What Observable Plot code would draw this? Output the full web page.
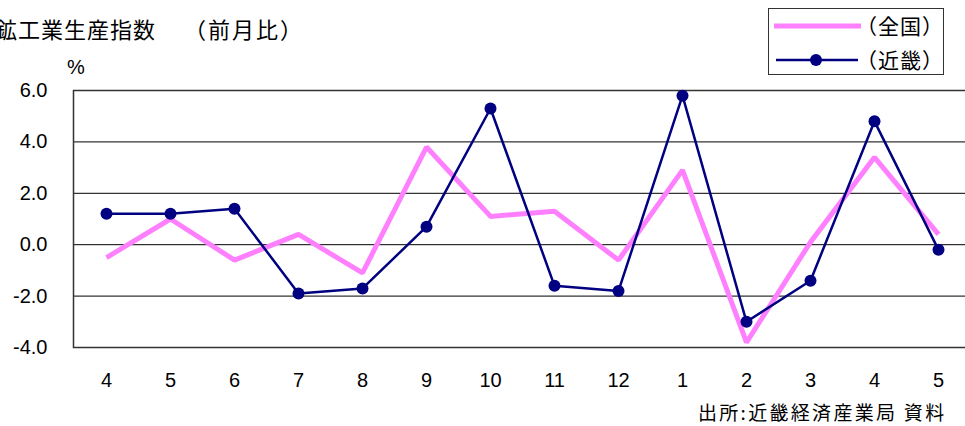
<!DOCTYPE html>
<html><head><meta charset="utf-8">
<script src="https://cdn.jsdelivr.net/npm/d3@7"></script>
<script src="https://cdn.jsdelivr.net/npm/@observablehq/plot@0.6"></script>
<style>
html,body{margin:0;padding:0;overflow:hidden;background:#fff;width:965px;height:426px}
#wrap{position:relative;width:965px;height:426px;overflow:hidden}
#chart{position:absolute;left:0;top:0;width:970px;height:426px}
#chart svg{max-width:none !important;width:970px;height:426px}
.t{position:absolute;font-family:"Noto Sans CJK JP";white-space:nowrap;color:#000;line-height:1}
#legend{position:absolute;left:768px;top:8px;width:176px;height:67px;border:1px solid #333;box-sizing:border-box;background:#fff}
</style></head><body>
<div id="wrap">
  <div id="chart"></div>
  <div class="t" style="left:-5px;top:17px;font-size:22px;letter-spacing:1px">鉱工業生産指数</div>
  <div class="t" style="left:184px;top:17px;font-size:22px;letter-spacing:2px">（前月比）</div>
  <div class="t" style="left:67px;top:57px;font-size:20px;font-family:'Liberation Sans',Arial">%</div>
  <div id="legend">
    <svg width="176" height="67" style="position:absolute;left:0;top:0">
      <line x1="5" x2="92" y1="17" y2="17" stroke="#FF80FF" stroke-width="5"/>
      <line x1="7" x2="89" y1="51" y2="51" stroke="#000080" stroke-width="2.5"/>
      <circle cx="47" cy="51" r="6" fill="#000080"/>
    </svg>
    <div class="t" style="left:87px;top:6px;font-size:21px;letter-spacing:1px">（全国）</div>
    <div class="t" style="left:87px;top:40px;font-size:21px;letter-spacing:1px">（近畿）</div>
  </div>
  <div class="t" style="left:698px;top:402px;font-size:19px;letter-spacing:2.3px">出所:近畿経済産業局 資料</div>
</div>
<script>
const months = ["4","5","6","7","8","9","10","11","12","1","2","3","4","5"];
const national = [-0.5, 1.0, -0.6, 0.4, -1.1, 3.8, 1.1, 1.3, -0.6, 2.9, -3.8, 0.1, 3.4, 0.4];
const kinki = [1.2, 1.2, 1.4, -1.9, -1.7, 0.7, 5.3, -1.6, -1.8, 5.8, -3.0, -1.4, 4.8, -0.2];
const yTicks = [6, 4, 2, 0, -2, -4];

const natRows = national.map((v, i) => ({i, v}));
const kinRows = kinki.map((v, i) => ({i, v}));

const chart = Plot.plot({
  width: 970,
  height: 426,
  marginLeft: 73,
  marginRight: 0,
  marginTop: 90,
  marginBottom: 79,
  x: {type: "point", domain: d3.range(months.length), padding: 0.5},
  y: {domain: [-4, 6]},
  style: {fontFamily: "'Liberation Sans', Arial, sans-serif", fontSize: "20px", color: "#000", background: "transparent", overflow: "visible"},
  marks: [
    Plot.ruleY(yTicks, {stroke: "#000", strokeWidth: 1}),
    Plot.frame({stroke: "#333", strokeWidth: 1.5}),
    Plot.axisX({tickSize: 0, tickPadding: 25, tickFormat: i => months[i], label: null}),
    Plot.axisY({ticks: yTicks, tickSize: 0, tickPadding: 26, tickFormat: d => d.toFixed(1), label: null}),
    Plot.line(natRows, {x: "i", y: "v", stroke: "#FF80FF", strokeWidth: 5, strokeLinejoin: "miter", strokeLinecap: "butt"}),
    Plot.line(kinRows, {x: "i", y: "v", stroke: "#000080", strokeWidth: 2.5}),
    Plot.dot(kinRows, {x: "i", y: "v", r: 6, fill: "#000080", stroke: "none"})
  ]
});
chart.style.maxWidth = "none";
document.getElementById("chart").appendChild(chart);
</script>
</body></html>
